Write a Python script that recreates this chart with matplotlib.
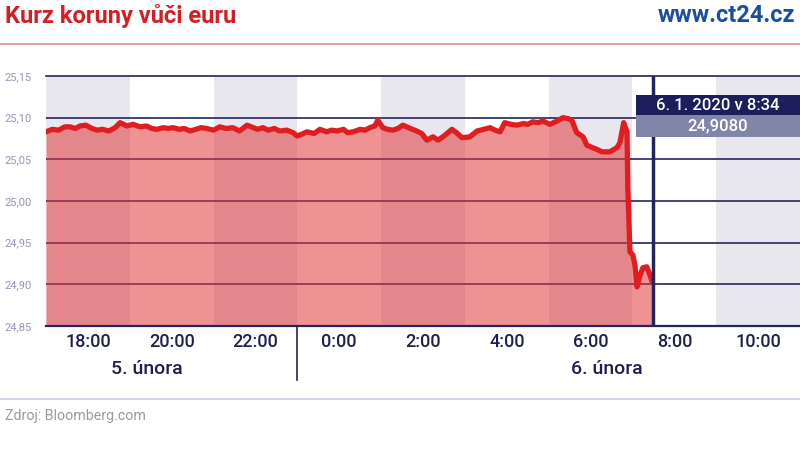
import matplotlib
matplotlib.use("Agg")
import matplotlib.pyplot as plt
from matplotlib.patches import Rectangle
import matplotlib.transforms as mtransforms

plt.rcParams["font.family"] = ["Roboto", "DejaVu Sans"]

# hours since midnight of 5 Feb (24 = 0:00 on 6 Feb)
hours = [17.00, 17.15, 17.30, 17.45, 17.57, 17.70, 17.81, 17.95, 18.10, 18.22,
         18.35, 18.50, 18.65, 18.77, 18.93, 19.08, 19.24, 19.40, 19.52, 19.65,
         19.80, 19.92, 20.03, 20.18, 20.30, 20.44, 20.58, 20.70, 20.84, 21.00,
         21.15, 21.30, 21.46, 21.62, 21.80, 21.95, 22.05, 22.18, 22.30, 22.45,
         22.58, 22.75, 22.90, 22.99, 23.10, 23.23, 23.40, 23.54, 23.70, 23.82,
         23.95, 24.10, 24.20, 24.33, 24.50, 24.62, 24.73, 24.85, 24.92, 25.04,
         25.15, 25.28, 25.40, 25.52, 25.70, 25.85, 25.97, 26.09, 26.24, 26.36,
         26.50, 26.69, 26.80, 26.93, 27.12, 27.29, 27.45, 27.60, 27.72, 27.84,
         27.95, 28.10, 28.24, 28.40, 28.50, 28.62, 28.75, 28.86, 29.03, 29.20,
         29.34, 29.45, 29.55, 29.67, 29.82, 29.91, 30.05, 30.15, 30.27, 30.46,
         30.63, 30.70, 30.75, 30.79, 30.87, 30.89, 30.94, 31.01, 31.06, 31.11,
         31.18, 31.25, 31.34, 31.39, 31.46]
rate = [25.083, 25.086, 25.085, 25.089, 25.089, 25.087, 25.090, 25.091, 25.087, 25.085,
        25.086, 25.084, 25.088, 25.094, 25.090, 25.092, 25.089, 25.090, 25.087, 25.086,
        25.088, 25.087, 25.088, 25.086, 25.087, 25.084, 25.086, 25.088, 25.087, 25.085,
        25.089, 25.087, 25.088, 25.084, 25.091, 25.088, 25.086, 25.088, 25.085, 25.087,
        25.084, 25.085, 25.082, 25.078, 25.080, 25.083, 25.081, 25.086, 25.083, 25.085,
        25.084, 25.086, 25.082, 25.083, 25.086, 25.085, 25.088, 25.090, 25.097, 25.088,
        25.086, 25.085, 25.087, 25.091, 25.087, 25.084, 25.081, 25.073, 25.077, 25.073,
        25.078, 25.086, 25.082, 25.076, 25.077, 25.084, 25.086, 25.088, 25.085, 25.083,
        25.094, 25.092, 25.091, 25.093, 25.092, 25.095, 25.094, 25.096, 25.092, 25.096,
        25.100, 25.099, 25.097, 25.082, 25.077, 25.067, 25.064, 25.062, 25.059, 25.059,
        25.064, 25.070, 25.083, 25.094, 25.083, 25.016, 24.939, 24.935, 24.923, 24.897,
        24.911, 24.920, 24.921, 24.915, 24.905]

tick_hours = [18, 20, 22, 24, 26, 28, 30, 32, 34]
tick_labels = ["18:00", "20:00", "22:00", "0:00", "2:00", "4:00", "6:00", "8:00", "10:00"]
y_ticks = [24.85, 24.90, 24.95, 25.00, 25.05, 25.10, 25.15]
y_labels = ["24,85", "24,90", "24,95", "25,00", "25,05", "25,10", "25,15"]
gray_bands = [(17, 19), (21, 23), (25, 27), (29, 31), (33, 35)]
day_labels = [("5. února", 19.4), ("6. února", 30.4)]
cursor_hour = 31.5
tooltip_time = "6. 1. 2020 v 8:34"
tooltip_value = "24,9080"

NAVY = "#23265e"
RED = "#e11d1f"

fig = plt.figure(figsize=(8, 4.49), dpi=100)
ax = fig.add_axes([46 / 800, 123 / 449, 754 / 800, 250 / 449])
ax.set_xlim(17, 35)
ax.set_ylim(24.85, 25.15)

for a, b in gray_bands:
    ax.axvspan(a, b, color="#e8e7ee", lw=0, zorder=0)
for v in y_ticks[1:-1]:
    ax.axhline(v, color=NAVY, lw=1.2, zorder=1)

ax.fill_between(hours, rate, 24.85, color="#e2393c", alpha=0.55, lw=0, zorder=2)
ax.plot(hours, rate, color=RED, lw=3.8, solid_joinstyle="round", zorder=3)
ax.axvline(cursor_hour, color=NAVY, lw=2.5, zorder=4)

for s in ["left", "right"]:
    ax.spines[s].set_visible(False)
ax.spines["top"].set_color(NAVY)
ax.spines["top"].set_linewidth(1.2)
ax.spines["bottom"].set_color(NAVY)
ax.spines["bottom"].set_linewidth(1.6)

ax.set_yticks(y_ticks)
ax.set_yticklabels(y_labels, fontsize=8, color="#9496b4")
ax.set_xticks(tick_hours)
ax.set_xticklabels(tick_labels, fontsize=13, color="#1f2050", fontweight="medium")
ax.tick_params(length=0, pad=5)
ax.tick_params(axis="y", pad=10)

# day divider below the axis
trans = mtransforms.blended_transform_factory(ax.transData, ax.transAxes)
ax.plot([23, 23], [0, -0.216], transform=trans, color=NAVY, lw=1.2, clip_on=False)
for text, h in day_labels:
    ax.text(h, -0.17, text, transform=trans, ha="center", va="center",
            fontsize=14, color="#1f2050", fontweight="medium")

# tooltip
x0 = (636 - 46) / 754
ax.add_patch(Rectangle((x0, 0.844), 1 - x0, 0.08, transform=ax.transAxes,
                       color="#1c1f5c", lw=0, zorder=5, clip_on=False))
ax.add_patch(Rectangle((x0, 0.756), 1 - x0, 0.088, transform=ax.transAxes,
                       color="#8186a8", lw=0, zorder=5, clip_on=False))
ax.text((x0 + 1) / 2, 0.884, tooltip_time, transform=ax.transAxes, ha="center",
        va="center", color="white", fontsize=12, fontweight="medium", zorder=6)
ax.text((x0 + 1) / 2, 0.800, tooltip_value, transform=ax.transAxes, ha="center",
        va="center", color="white", fontsize=12, fontweight="medium", zorder=6)

# header and footer
fig.text(5 / 800, 1 - 16 / 449, "Kurz koruny vůči euru", ha="left", va="center",
         fontsize=17, fontweight="bold", color="#d21f26")
fig.text(795 / 800, 1 - 16 / 449, "www.ct24.cz", ha="right", va="center",
         fontsize=17, fontweight="bold", color="#1a4ea6")
fig.add_artist(plt.Line2D([0, 1], [1 - 44 / 449] * 2, color="#e3a3a6", lw=1.5))
fig.add_artist(plt.Line2D([0, 1], [1 - 399 / 449] * 2, color="#cbcae0", lw=1.2))
fig.text(5 / 800, 1 - 416 / 449, "Zdroj: Bloomberg.com", ha="left", va="center",
         fontsize=10.3, color="#9a9aa8")

fig.savefig("out.png", dpi=100)
